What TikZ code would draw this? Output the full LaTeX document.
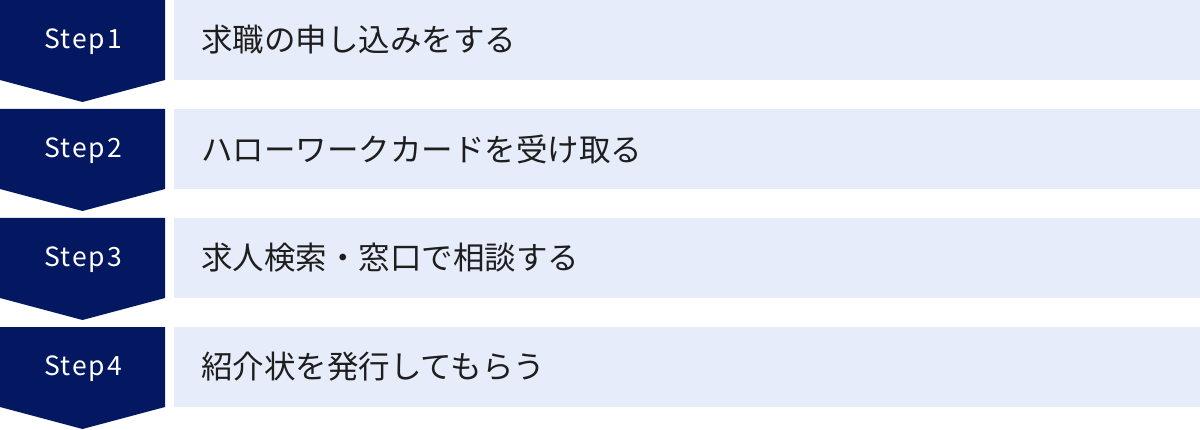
\documentclass[tikz,border=0pt]{standalone}
\usepackage{fontspec}
\setmainfont{Noto Sans CJK JP}
\newfontfamily\stepfont[LetterSpace=7]{Noto Sans CJK JP}
\definecolor{navy}{RGB}{4,24,98}
\definecolor{lightbg}{RGB}{230,236,249}
\definecolor{txt}{RGB}{30,30,30}
\tikzset{
  stepshape/.style={fill=navy, draw=none},
  rowbox/.style={fill=lightbg, draw=none},
  steplabel/.style={text=white, font=\stepfont\fontsize{26.5}{30}\selectfont, inner sep=0pt},
  rowlabel/.style={text=txt, font=\fontsize{31.5}{36}\selectfont, anchor=west, inner sep=0pt},
}
\begin{document}
\begin{tikzpicture}[x=1pt,y=1pt]
\useasboundingbox (0,0) rectangle (1200,429);
\foreach \i/\lab/\txt in {0/Step1/求職の申し込みをする,1/Step2/ハローワークカードを受け取る,2/Step3/求人検索・窓口で相談する,3/Step4/紹介状を発行してもらう}{
  \pgfmathsetmacro{\top}{429-109*\i}
  \fill[stepshape] (0,\top) -- (165,\top) -- (165,\top-80) -- (82.5,\top-102) -- (0,\top-80) -- cycle;
  \fill[rowbox] (174,\top) rectangle (1200,\top-80);
  \node[steplabel] (s\i) at (83,\top-41.5) {\lab};
  \node[rowlabel] (t\i) at (201,\top-40) {\txt};
}
\end{tikzpicture}
\end{document}
